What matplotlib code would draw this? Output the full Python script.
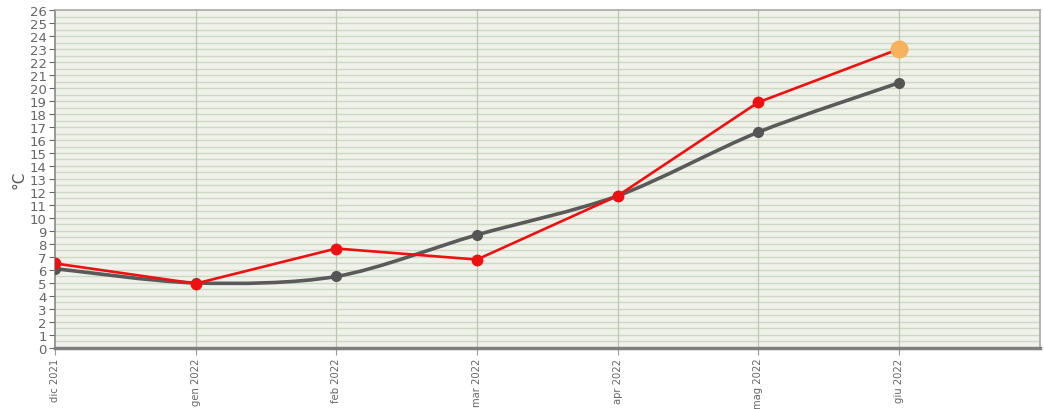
import numpy as np
import matplotlib.pyplot as plt
from matplotlib.path import Path
from matplotlib.patches import PathPatch

months = ['dic 2021', 'gen 2022', 'feb 2022', 'mar 2022', 'apr 2022', 'mag 2022', 'giu 2022']
media = [6.1, 5.0, 5.5, 8.7, 11.7, 16.6, 20.4]
temp_2022 = [6.5, 4.95, 7.65, 6.8, 11.7, 18.9, 23.0]


def smooth_path(xs, ys, t=0.15):
    # bezier segments through the points (catmull-rom style handles)
    xs = np.asarray(xs, float)
    ys = np.asarray(ys, float)
    n = len(xs)
    verts = [(xs[0], ys[0])]
    codes = [Path.MOVETO]
    for i in range(n - 1):
        p0 = np.array([xs[max(i - 1, 0)], ys[max(i - 1, 0)]])
        p1 = np.array([xs[i], ys[i]])
        p2 = np.array([xs[i + 1], ys[i + 1]])
        p3 = np.array([xs[min(i + 2, n - 1)], ys[min(i + 2, n - 1)]])
        c1 = p1 + (p2 - p0) * t
        c2 = p2 - (p3 - p1) * t
        verts += [tuple(c1), tuple(c2), tuple(p2)]
        codes += [Path.CURVE4] * 3
    return Path(verts, codes)


fig = plt.figure(figsize=(10.44, 4.10), dpi=100)
fig.patch.set_facecolor('white')
ax = fig.add_axes([0.0527, 0.149, 0.943, 0.824])
ax.set_facecolor('#f1f1ec')

x = np.arange(len(months))

# horizontal grid every half degree, vertical at each month
for yv in np.arange(0.5, 26, 0.5):
    ax.axhline(yv, color='#cbd9c2', lw=1.0, zorder=1)
for xv in x[1:]:
    ax.axvline(xv, color='#b9c9ae', lw=0.9, zorder=1)

ax.add_patch(PathPatch(smooth_path(x, media), fill=False, edgecolor='#5a5a5a',
                       lw=2.6, zorder=3, capstyle='round'))
ax.plot(x, media, 'o', color='#555555', ms=7, zorder=4)

ax.plot(x, temp_2022, '-', color='#ee1111', lw=1.9, zorder=5)
ax.plot(x[:-1], temp_2022[:-1], 'o', color='#ee1111', ms=7.5, zorder=6)
ax.plot(x[-1:], temp_2022[-1:], 'o', color='#f6b25c', ms=12, zorder=6)

ax.set_xlim(0, 7)
ax.set_ylim(0, 26)
ax.set_yticks(range(0, 27))
ax.set_xticks(x)
ax.set_xticklabels(months, rotation=90, fontsize=7.2, color='#666666')
ax.tick_params(axis='y', labelsize=9.5, colors='#666666', length=4, width=0.8, pad=2)
ax.tick_params(axis='x', length=5, width=0.8, colors='#999999', labelcolor='#666666', pad=2)
ax.set_ylabel('°C', fontsize=11, color='#555555', labelpad=2)

for side in ['top', 'right']:
    ax.spines[side].set_color('#a8a8a8')
    ax.spines[side].set_linewidth(1.2)
ax.spines['left'].set_color('#888888')
ax.spines['left'].set_linewidth(1.2)
ax.spines['bottom'].set_color('#7f7f7f')
ax.spines['bottom'].set_linewidth(2.5)

fig.savefig('out.png', dpi=100)
